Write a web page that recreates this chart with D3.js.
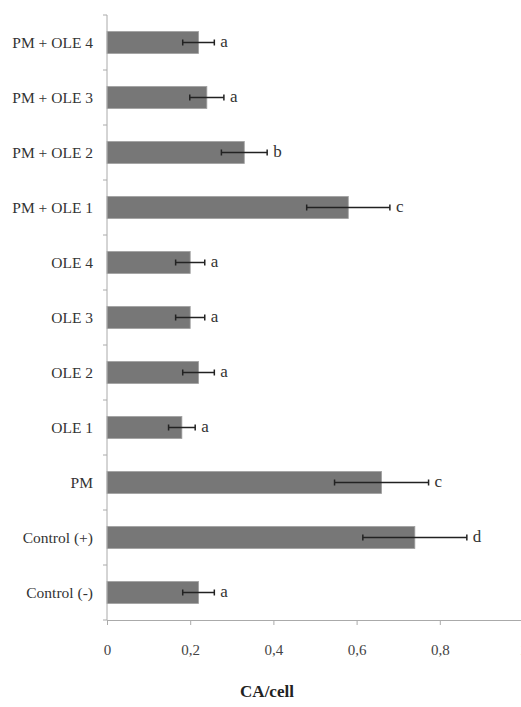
<!DOCTYPE html>
<html>
<head>
<meta charset="utf-8">
<script src="https://cdn.jsdelivr.net/npm/d3@7"></script>
<style>
  body { margin: 0; background: #fff; }
</style>
</head>
<body>
<svg id="chart"></svg>
<script>
// categories listed top to bottom
const categories = ["PM + OLE 4", "PM + OLE 3", "PM + OLE 2", "PM + OLE 1",
  "OLE 4", "OLE 3", "OLE 2", "OLE 1", "PM", "Control (+)", "Control (-)"];
const means  = [0.22, 0.24, 0.33, 0.58, 0.20, 0.20, 0.22, 0.18, 0.66, 0.74, 0.22];
const errors = [0.038, 0.041, 0.055, 0.10, 0.035, 0.035, 0.038, 0.032, 0.113, 0.125, 0.038];
const letters = ["a", "a", "b", "c", "a", "a", "a", "a", "c", "d", "a"];
const xTicks = [0, 0.2, 0.4, 0.6, 0.8, 1];
const xTickLabels = ["0", "0,2", "0,4", "0,6", "0,8", "1"];

const SERIF = "'Liberation Serif', 'Times New Roman', Times, 'DejaVu Serif', serif";

const data = categories.map((c, i) => ({ cat: c, mean: means[i], err: errors[i], letter: letters[i] }));

const width = 521, height = 707;
const svg = d3.select("#chart").attr("width", width).attr("height", height);

const x = d3.scaleLinear().domain([0, 1]).range([107, 523]);
const y = d3.scaleBand().domain(categories).range([15, 620])
  .paddingInner(0.6).paddingOuter(0.3);

// bars
svg.selectAll(".bar")
  .data(data)
  .join("rect")
  .attr("class", "bar")
  .attr("x", x(0))
  .attr("y", d => y(d.cat))
  .attr("width", d => x(d.mean) - x(0))
  .attr("height", y.bandwidth())
  .attr("fill", "#777777")
  .attr("stroke", "#a0a0a0")
  .attr("stroke-width", 0.8);

// error bars
const eb = svg.selectAll(".err")
  .data(data)
  .join("g")
  .attr("class", "err")
  .attr("transform", d => `translate(0,${y(d.cat) + y.bandwidth() / 2})`)
  .attr("stroke", "#222")
  .attr("stroke-width", 1.5);

eb.append("line")
  .attr("x1", d => x(d.mean - d.err))
  .attr("x2", d => x(d.mean + d.err))
  .attr("y1", 0).attr("y2", 0);
eb.append("line")
  .attr("x1", d => x(d.mean - d.err))
  .attr("x2", d => x(d.mean - d.err))
  .attr("y1", -3).attr("y2", 3);
eb.append("line")
  .attr("x1", d => x(d.mean + d.err))
  .attr("x2", d => x(d.mean + d.err))
  .attr("y1", -3).attr("y2", 3);

// significance letters
svg.selectAll(".letter")
  .data(data)
  .join("text")
  .attr("class", "letter")
  .attr("x", d => x(d.mean + d.err) + 6)
  .attr("y", d => y(d.cat) + y.bandwidth() / 2)
  .attr("dy", "0.25em")
  .style("font-family", SERIF)
  .style("font-size", "17px")
  .attr("fill", "#333")
  .text(d => d.letter);

// x axis
const xAxisG = svg.append("g")
  .attr("transform", "translate(0,620)")
  .call(d3.axisBottom(x).tickValues(xTicks).tickSize(5).tickFormat((d, i) => xTickLabels[i]));
xAxisG.select(".domain").attr("stroke", "#aaa").attr("d", `M${x(0)},0.5H${width}`);
xAxisG.selectAll(".tick line").attr("stroke", "#aaa");
xAxisG.selectAll(".tick text")
  .attr("y", 24)
  .style("font-family", SERIF)
  .style("font-size", "15px")
  .attr("fill", "#444");

// y axis
svg.append("line")
  .attr("x1", x(0)).attr("x2", x(0))
  .attr("y1", 15).attr("y2", 620)
  .attr("stroke", "#aaa");

const step = y.step();
const boundaries = d3.range(categories.length + 1).map(i => 15 + i * step);
svg.selectAll(".ytick")
  .data(boundaries)
  .join("line")
  .attr("class", "ytick")
  .attr("x1", x(0) - 4).attr("x2", x(0))
  .attr("y1", d => d).attr("y2", d => d)
  .attr("stroke", "#aaa");

svg.selectAll(".ylabel")
  .data(categories)
  .join("text")
  .attr("class", "ylabel")
  .attr("x", 93)
  .attr("y", d => y(d) + y.bandwidth() / 2)
  .attr("dy", "0.35em")
  .attr("text-anchor", "end")
  .style("font-family", SERIF)
  .style("font-size", "15.5px")
  .attr("fill", "#333")
  .text(d => d);

// axis title
svg.append("text")
  .attr("x", 267)
  .attr("y", 697)
  .attr("text-anchor", "middle")
  .style("font-family", SERIF)
  .style("font-size", "17px")
  .style("font-weight", "bold")
  .attr("fill", "#222")
  .text("CA/cell");
</script>
</body>
</html>
